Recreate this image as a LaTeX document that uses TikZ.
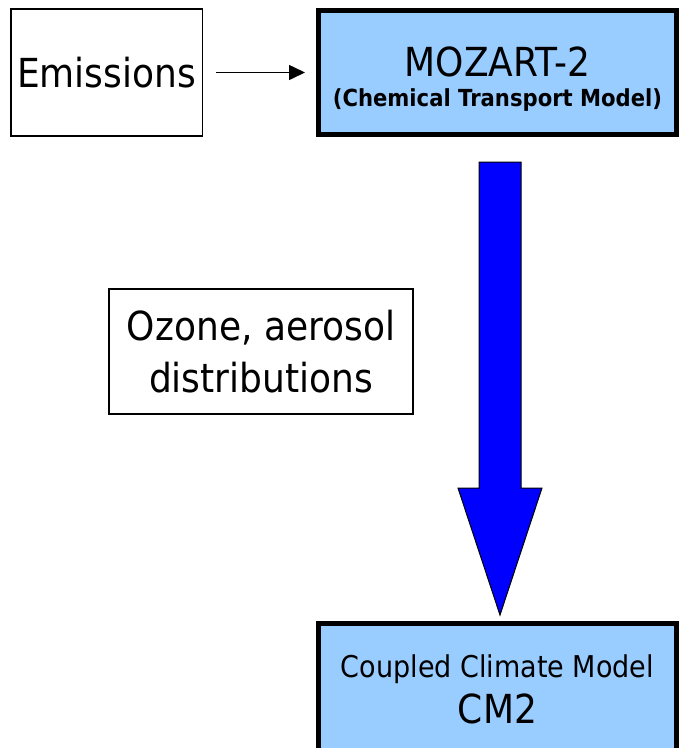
\documentclass[tikz,border=0pt]{standalone}
\usepackage{fontspec}
\setmainfont[FakeStretch=0.9]{DejaVu Sans}
\usepackage{tikz}
\usetikzlibrary{positioning}
\usetikzlibrary{arrows.meta}
\definecolor{modelblue}{HTML}{99CCFF}

\begin{document}
\begin{tikzpicture}[x=1pt, y=-1pt,
  thinbox/.style={draw, line width=1.5pt, inner sep=0pt, outer sep=0pt, align=center},
  modelbox/.style={draw, fill=modelblue, line width=5pt, inner sep=0pt, outer sep=0pt, align=center}]
\useasboundingbox (0,0) rectangle (679,748);
\node[thinbox,
      minimum width=191.5pt,
      minimum height=127pt,
      font=\fontsize{40}{48}\selectfont
     ]
     (emissions) at (106.5,72.5) {Emissions};
\node[modelbox,
      minimum width=358pt,
      minimum height=124pt,
      font=\fontsize{40}{30}\selectfont,
      right=116.25pt of emissions
     ]
     (mozart) {\rule{0pt}{42pt}MOZART-2\\{\fontsize{23.5}{30}\selectfont\bfseries (Chemical Transport Model)}};
\node[modelbox,
      minimum width=358pt,
      minimum height=131pt,
      font=\fontsize{40}{46}\selectfont,
      below=489pt of mozart
     ]
     (cm2) {{\fontsize{30}{46}\selectfont Coupled Climate Model}\\CM2};
\node[thinbox,
      line width=2pt,
      minimum width=304pt,
      minimum height=125pt,
      font=\fontsize{40}{52}\selectfont
     ]
     (ozone) at (261,351.5) {Ozone, aerosol\\distributions};

% emissions feed the chemistry model
\draw[-{Triangle[length=16pt,width=15pt]}, line width=1.6pt, shorten <=13.75pt, shorten >=13.5pt] (emissions) -- (mozart);

% big flow arrow down to the climate model
\coordinate (flowTop) at ([xshift=2.5pt,yshift=-27.5pt]mozart.south);
\coordinate (flowTip) at ([xshift=2.5pt,yshift=8.5pt]cm2.north);
\filldraw[fill=blue, draw=black, line width=1pt]
  ([xshift=-21pt]flowTop) -- ([xshift=21pt]flowTop) -- ([xshift=21pt,yshift=127pt]flowTip)
  -- ([xshift=42pt,yshift=127pt]flowTip) -- (flowTip) -- ([xshift=-42pt,yshift=127pt]flowTip)
  -- ([xshift=-21pt,yshift=127pt]flowTip) -- cycle;
\end{tikzpicture}
\end{document}
